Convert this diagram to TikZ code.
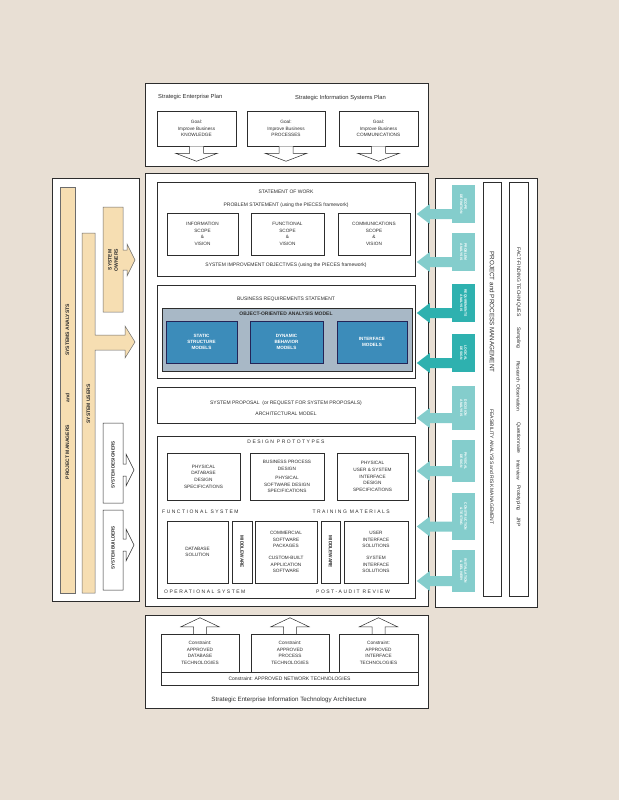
\documentclass[tikz,border=0pt]{standalone}
\usepackage{fontspec}
\setmainfont{Liberation Sans}
\newfontfamily\spacedfont[LetterSpace=30]{Liberation Sans}
\definecolor{bg}{RGB}{232,223,212}
\definecolor{ink}{RGB}{45,45,45}
\definecolor{peach}{RGB}{246,222,178}
\definecolor{lteal}{RGB}{132,205,204}
\definecolor{dteal}{RGB}{46,177,175}
\definecolor{oogray}{RGB}{168,184,198}
\definecolor{ooblue}{RGB}{60,140,186}
\newcommand\bx[7]{\node[#6, minimum width={(#4)-(#2)}, minimum height={(#5)-(#3)}] (#1) at ({((#2)+(#4))/2},{((#3)+(#5))/2}) {#7};}
\newcommand\phase[5]{%
  \bx{#1}{452}{#2}{475}{#3}{tealbox, fill=#4}{}
  \fill[#4] ([yshift=-5pt]#1.west) -- ++(-22,0) -- ++(0,-5) -- ++(-13,10) -- ++(13,10) -- ++(0,-5) -- ++(22,0) -- cycle;
  \node[tealtxt] (#1t) at (#1) {#5};}
\tikzset{
  every node/.style={text=ink, inner sep=0pt, align=center},
  frame/.style={draw=ink, line width=0.6pt, fill=white},
  wbox/.style={draw=ink, line width=0.5pt, fill=white},
  tealbox/.style={draw=none},
  tealtxt/.style={rotate=-90, text=white, font=\fontsize{3.4}{4.2}\selectfont\bfseries},
  fsix/.style={font=\fontsize{5.8}{7}\selectfont},
  ffive/.style={font=\fontsize{5}{6.6}\selectfont},
  fbold/.style={font=\fontsize{5}{6.2}\selectfont\bfseries},
  fsmall/.style={font=\fontsize{4.7}{6.6}\selectfont},
  fspaced/.style={font=\spacedfont\fontsize{5}{6}\selectfont},
  oobox/.style={draw=ink!80!blue, line width=0.5pt, fill=ooblue, text=white, font=\fontsize{4.6}{6}\selectfont\bfseries},
  blk/.style={draw=ink, line width=0.5pt, fill=white},
  pblk/.style={draw=ink!70, line width=0.5pt, fill=peach},
  darr/.pic={\draw[blk] (-7,0) -- (-7,7) -- (-21,7) -- (0,15) -- (21,7) -- (7,7) -- (7,0);},
  uarr/.pic={\draw[blk] (-6.5,0) -- (-6.5,-7) -- (-19,-7) -- (0,-16) -- (19,-7) -- (6.5,-7) -- (6.5,0);}
}
\begin{document}
\begin{tikzpicture}[x=1pt,y=-1pt]
\fill[bg] (0,0) rectangle (619,800);
\useasboundingbox (0,0) rectangle (619,800);

% ---------- top frame ----------
\bx{top}{145}{83}{428}{166}{frame}{}
\node[fsix, anchor=west] (sep) at (158,97) {Strategic Enterprise Plan};
\node[fsix, anchor=west] (sisp) at (295,98) {Strategic Information Systems Plan};
\bx{g1}{157}{111}{236}{146}{wbox,fsmall}{Goal:\\Improve Business\\KNOWLEDGE}
\bx{g2}{247}{111}{325}{146}{wbox,fsmall}{Goal:\\Improve Business\\PROCESSES}
\bx{g3}{339}{111}{418}{146}{wbox,fsmall}{Goal:\\Improve Business\\COMMUNICATIONS}
\pic at (g1.south) {darr};
\pic at (g2.south) {darr};
\pic at (g3.south) {darr};

% ---------- frames ----------
\bx{center}{145}{173}{428}{606}{frame}{}
\bx{left}{52}{178}{139}{601}{frame}{}
\bx{right}{435}{178}{537}{607}{frame}{}

% ---------- statement of work ----------
\bx{A}{157}{182}{415}{276}{wbox}{}
\node[ffive] (sow) at (286,192) {STATEMENT OF WORK};
\node[ffive] (ps) at (286,205) {PROBLEM STATEMENT (using the PIECES framework)};
\bx{a1}{167}{213}{238}{255}{wbox,fsmall}{INFORMATION\\SCOPE\\\&\\VISION}
\bx{a2}{251}{213}{324}{255}{wbox,fsmall}{FUNCTIONAL\\SCOPE\\\&\\VISION}
\bx{a3}{338}{213}{410}{255}{wbox,fsmall}{COMMUNICATIONS\\SCOPE\\\&\\VISION}
\node[ffive] (sio) at (286,265) {SYSTEM IMPROVEMENT OBJECTIVES (using the PIECES framework)};

% ---------- business requirements ----------
\bx{B}{157}{285}{415}{378}{wbox}{}
\node[ffive] (brs) at (286,299) {BUSINESS REQUIREMENTS STATEMENT};
\bx{ooa}{162}{308}{412}{371}{draw=ink, line width=0.5pt, fill=oogray}{}
\node[fbold] (ooat) at (286,314) {OBJECT-ORIENTED ANALYSIS MODEL};
\bx{b1}{166}{321}{237}{363}{oobox}{STATIC\\STRUCTURE\\MODELS}
\bx{b2}{250}{321}{323}{363}{oobox}{DYNAMIC\\BEHAVIOR\\MODELS}
\bx{b3}{337}{321}{407}{363}{oobox}{INTERFACE\\MODELS}

% ---------- system proposal ----------
\bx{C}{157}{387}{415}{423}{wbox}{}
\node[ffive] (sp) at (286,403) {SYSTEM PROPOSAL \ (or REQUEST FOR SYSTEM PROPOSALS)};
\node[ffive] (am) at (286,414) {ARCHITECTURAL MODEL};

% ---------- design ----------
\bx{D}{157}{436}{415}{598}{wbox}{}
\node[fspaced] (dp) at (286,442) {DESIGN PROTOTYPES};
\bx{d1}{167}{453}{240}{500}{wbox,fsmall}{PHYSICAL\\DATABASE\\DESIGN\\SPECIFICATIONS}
\bx{d2}{250}{453}{324}{500}{wbox,fsmall}{BUSINESS PROCESS\\DESIGN\\[3pt]PHYSICAL\\SOFTWARE DESIGN\\SPECIFICATIONS}
\bx{d3}{337}{453}{408}{500}{wbox,fsmall}{PHYSICAL\\USER \& SYSTEM\\INTERFACE\\DESIGN\\SPECIFICATIONS}
\node[fspaced, anchor=west] (fsys) at (162,512) {FUNCTIONAL SYSTEM};
\node[fspaced, anchor=east] (tm) at (390,512) {TRAINING MATERIALS};
\bx{e1}{167}{521}{228}{583}{wbox,fsmall}{DATABASE\\SOLUTION}
\bx{m1}{232}{521}{252}{583}{wbox}{}
\node[fsmall, font=\fontsize{4.7}{6}\selectfont\bfseries, rotate=-90] (m1t) at (m1) {MIDDLEWARE};
\bx{e2}{255}{521}{317}{583}{wbox,fsmall}{COMMERCIAL\\SOFTWARE\\PACKAGES\\[5pt]CUSTOM-BUILT\\APPLICATION\\SOFTWARE}
\bx{m2}{321}{521}{340}{583}{wbox}{}
\node[fsmall, font=\fontsize{4.7}{6}\selectfont\bfseries, rotate=-90] (m2t) at (m2) {MIDDLEWARE};
\bx{e3}{344}{521}{408}{583}{wbox,fsmall}{USER\\INTERFACE\\SOLUTIONS\\[5pt]SYSTEM\\INTERFACE\\SOLUTIONS}
\node[fspaced, anchor=west] (ops) at (164,592) {OPERATIONAL SYSTEM};
\node[fspaced, anchor=east] (par) at (390,592) {POST-AUDIT REVIEW};

% ---------- bottom frame ----------
\bx{bot}{145}{615}{428}{708}{frame}{}
\bx{c1}{161}{634}{239}{672}{wbox,fsmall}{Constraint:\\APPROVED\\DATABASE\\TECHNOLOGIES}
\bx{c2}{251}{634}{329}{672}{wbox,fsmall}{Constraint:\\APPROVED\\PROCESS\\TECHNOLOGIES}
\bx{c3}{339}{634}{418}{672}{wbox,fsmall}{Constraint:\\APPROVED\\INTERFACE\\TECHNOLOGIES}
\bx{net}{161}{672}{418}{685}{wbox,ffive}{Constraint: APPROVED NETWORK TECHNOLOGIES}
\node[font=\fontsize{6.2}{7}\selectfont] (seita) at (289,700) {Strategic Enterprise Information Technology Architecture};
\pic at (c1.north) {uarr};
\pic at (c2.north) {uarr};
\pic at (c3.north) {uarr};

% ---------- left frame ----------
\bx{pm}{60}{187}{75}{593}{pblk}{}
\draw[pblk] (82,233) -- (95,233) -- (95,335) -- (125,335) -- (125,326) -- (135,342) -- (125,358) -- (125,350) -- (95,350) -- (95,593) -- (82,593) -- cycle;
\draw[pblk] (103,207) -- (123,207) -- (123,250) -- (127,250) -- (127,244) -- (135,260) -- (127,276) -- (127,270) -- (123,270) -- (123,312) -- (103,312) -- cycle;
\draw[blk] (103,423) -- (123,423) -- (123,464) -- (126,464) -- (126,454) -- (134,470) -- (126,486) -- (126,476) -- (123,476) -- (123,503) -- (103,503) -- cycle;
\draw[blk] (103,510) -- (123,510) -- (123,539) -- (126,539) -- (126,529) -- (134,545) -- (126,561) -- (126,551) -- (123,551) -- (123,590) -- (103,590) -- cycle;
\node[fbold, rotate=90] (sa) at (67.5,330) {SYSTEMS ANALYSTS};
\node[fbold, rotate=90] (and) at (67.5,398) {and};
\node[fbold, rotate=90] (pmt) at (67.5,452) {PROJECT MANAGERS};
\node[fbold, rotate=90] (su) at (88.5,404) {SYSTEM USERS};
\node[fbold, rotate=90] (so) at (113,260) {SYSTEM\\OWNERS};
\node[fbold, font=\fontsize{4.6}{6}\selectfont\bfseries, rotate=90] (sd) at (113,465) {SYSTEM DESIGNERS};
\node[fbold, font=\fontsize{4.6}{6}\selectfont\bfseries, rotate=90] (sb) at (113,548) {SYSTEM BUILDERS};

% ---------- right frame ----------
\phase{p1}{185}{223}{lteal}{SCOPE\\DEFINITION}
\phase{p2}{233}{271}{lteal}{PROBLEM\\ANALYSIS}
\phase{p3}{284}{322}{dteal}{REQUIREMENTS\\ANALYSIS}
\phase{p4}{334}{372}{dteal}{LOGICAL\\DESIGN}
\phase{p5}{386}{430}{lteal}{DECISION\\ANALYSIS}
\phase{p6}{440}{482}{lteal}{PHYSICAL\\DESIGN}
\phase{p7}{493}{540}{lteal}{CONSTRUCTION\\\& TESTING}
\phase{p8}{550}{592}{lteal}{INSTALLATION\\\& DELIVERY}
\bx{ppm}{483}{182}{501}{596}{wbox}{}
\node[rotate=-90, font=\fontsize{6.3}{7}\selectfont] (ppmt) at (492,312) {PROJECT and PROCESS MANAGEMENT};
\node[rotate=-90, ffive] (far) at (492,467) {FEASIBILITY ANALYSIS and RISK MANAGEMENT};
\bx{fft}{509}{182}{528}{596}{wbox}{}
\node[rotate=-90, ffive] (fftt) at (518.5,282) {FACT-FINDING TECHNIQUES};
\node[rotate=-90, ffive] (f1) at (518.5,338) {Sampling};
\node[rotate=-90, ffive] (f2) at (518.5,372) {Research};
\node[rotate=-90, ffive] (f3) at (518.5,398) {Observation};
\node[rotate=-90, ffive] (f4) at (518.5,438) {Questionnaire};
\node[rotate=-90, ffive] (f5) at (518.5,470) {Interview};
\node[rotate=-90, ffive] (f6) at (518.5,498) {Prototyping};
\node[rotate=-90, ffive] (f7) at (518.5,522) {JRP};
\end{tikzpicture}
\end{document}
